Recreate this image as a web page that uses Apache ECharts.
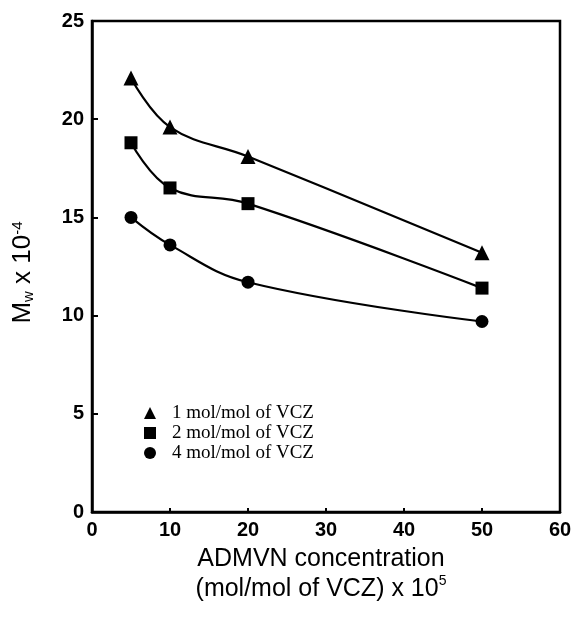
<!DOCTYPE html>
<html>
<head>
<meta charset="utf-8">
<script src="https://cdn.jsdelivr.net/npm/echarts@6/dist/echarts.min.js"></script>
<style>html,body{margin:0;padding:0;background:#fff}#c{width:576px;height:619px}</style>
</head>
<body>
<div id="c"></div>
<script>
const concentrations = [5, 10, 20, 50];
const mw1 = [22.1, 19.6, 18.1, 13.2];
const mw2 = [18.8, 16.5, 15.7, 11.4];
const mw4 = [15.0, 13.6, 11.7, 9.7];
const seriesNames = ['1 mol/mol of VCZ', '2 mol/mol of VCZ', '4 mol/mol of VCZ'];
const xTicks = [0, 10, 20, 30, 40, 50, 60];
const yTicks = [0, 5, 10, 15, 20, 25];

const chart = echarts.init(document.getElementById('c'));
const pair = (ys) => concentrations.map((x, i) => [x, ys[i]]);
const mk = (name, data, symbol, size) => ({
  name, type: 'line', data: pair(data), symbol, symbolSize: size,
  smooth: 0.4, lineStyle: {color: '#000', width: 2.2}, itemStyle: {color: '#000'}
});
chart.setOption({
  animation: false,
  backgroundColor: '#fff',
  grid: {left: 92, right: 16, top: 21, bottom: 107, show: true, borderColor: '#000', borderWidth: 2.5},
  xAxis: {
    type: 'value', min: xTicks[0], max: xTicks[xTicks.length - 1], interval: 10,
    axisLine: {lineStyle: {color: '#000', width: 2.5}},
    axisTick: {inside: true, length: 4, lineStyle: {color: '#000', width: 2}},
    splitLine: {show: false},
    axisLabel: {color: '#000', fontSize: 20, fontFamily: 'Liberation Sans', margin: 8, hideOverlap: false,
      formatter: (v) => '{b|' + v + '}',
      rich: {b: {fontSize: 20, fontWeight: 'bold', fontFamily: 'Liberation Sans', color: '#000'}}},
    name: '{a|ADMVN concentration}\n{a|(mol/mol of VCZ) x 10}{p|5}',
    nameLocation: 'middle', nameGap: 32,
    nameTextStyle: {
      padding: [0, 10, 0, 0],
      rich: {
        a: {fontSize: 25, fontFamily: 'Liberation Sans', color: '#000', lineHeight: 30},
        p: {fontSize: 14, fontFamily: 'Liberation Sans', color: '#000', verticalAlign: 'top', lineHeight: 30, padding: [0, 0, 10, 0]}
      }
    }
  },
  yAxis: {
    type: 'value', min: yTicks[0], max: yTicks[yTicks.length - 1], interval: 5,
    axisLine: {lineStyle: {color: '#000', width: 2.5}},
    axisTick: {inside: true, length: 6, lineStyle: {color: '#000', width: 2}},
    splitLine: {show: false},
    axisLabel: {color: '#000', fontSize: 20, fontWeight: 'bold', fontFamily: 'Liberation Sans', margin: 8, hideOverlap: false},
    name: '{m|M}{s|w}{m| x 10}{p|-4}',
    nameLocation: 'middle', nameGap: 56, nameRotate: 90,
    nameTextStyle: {
      padding: [0, 12, 0, 0],
      rich: {
        m: {fontSize: 26, fontFamily: 'Liberation Sans', color: '#000'},
        s: {fontSize: 15, fontFamily: 'Liberation Sans', color: '#000', verticalAlign: 'bottom', padding: [11, 0, 0, 0]},
        p: {fontSize: 15, fontFamily: 'Liberation Sans', color: '#000', verticalAlign: 'top', padding: [0, 0, 11, 0]}
      }
    }
  },
  legend: {
    orient: 'vertical', left: 139, top: 398, itemGap: 0, itemWidth: 12, itemHeight: 12,
    textStyle: {fontFamily: 'Liberation Serif', fontSize: 19, lineHeight: 20, color: '#000', padding: [0, 0, 0, 11]},
    data: [
      {name: seriesNames[0], icon: 'triangle'},
      {name: seriesNames[1], icon: 'rect'},
      {name: seriesNames[2], icon: 'circle'}
    ]
  },
  series: [
    mk(seriesNames[0], mw1, 'triangle', 15),
    mk(seriesNames[1], mw2, 'rect', 13),
    mk(seriesNames[2], mw4, 'circle', 13)
  ]
});
</script>
</body>
</html>
